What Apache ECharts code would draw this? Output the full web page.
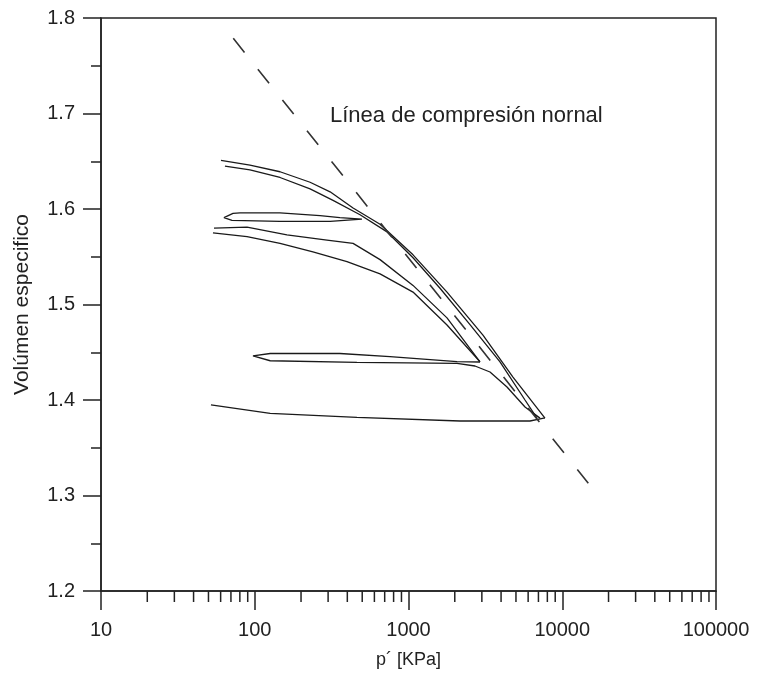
<!DOCTYPE html>
<html>
<head>
<meta charset="utf-8">
<script src="https://cdn.jsdelivr.net/npm/echarts@6/dist/echarts.min.js"></script>
<style>
html,body{margin:0;padding:0;background:#fff;}
#chart{width:759px;height:674px;}
</style>
</head>
<body>
<div id="chart"></div>
<script>
// ---- data (p' in kPa, specific volume) ----
const xTickLabels = [10, 100, 1000, 10000, 100000];
const yTickLabels = [1.2, 1.3, 1.4, 1.5, 1.6, 1.7, 1.8];
const xMinorTicks = [20,30,40,50,60,70,80,90,200,300,400,500,600,700,800,900,2000,3000,4000,5000,6000,7000,8000,9000,20000,30000,40000,50000,60000,70000,80000,90000];

const nclLine = [[72.5, 1.7787], [14770, 1.3128]];
const topOuter = [[60.3,1.651],[93.1,1.646],[146,1.639],[229,1.628],[309,1.618],[436,1.601],[653,1.584],[1070,1.552],[1780,1.513],[3050,1.468],[4780,1.424],[7720,1.381]];
const topInner = [[64.0,1.645],[93.1,1.641],[146,1.633],[229,1.621],[323,1.609],[484,1.594],[725,1.576],[1070,1.549],[1603,1.517],[2512,1.479],[3936,1.440],[5725,1.400],[6850,1.381]];
const loop159 = [[498,1.5895],[358,1.591],[266,1.593],[146,1.596],[80.2,1.596],[72.2,1.5955],[63.1,1.591],[71.1,1.588],[146,1.587],[309,1.587],[498,1.5895]];
const midUpper = [[54.3,1.580],[89.1,1.581],[162,1.573],[295,1.5675],[436,1.564],[653,1.547],[1070,1.520],[1780,1.486],[2917,1.440]];
const midLower = [[53.5,1.575],[89.1,1.571],[146,1.564],[239,1.555],[398,1.545],[653,1.532],[1070,1.513],[1780,1.4785],[2917,1.440]];
const loop144 = [[2917,1.4398],[2067,1.4401],[758,1.4454],[358,1.4487],[126,1.4487],[97.4,1.4461],[126,1.4411],[462,1.4395],[2067,1.4384],[2706,1.4356],[3389,1.4293],[4372,1.4136],[5725,1.3927],[7166,1.381]];
const bottomCurve = [[51.9,1.3948],[126,1.3861],[462,1.3819],[2163,1.378],[6170,1.378],[7720,1.3812]];

const solidCurves = [topOuter, topInner, loop159, midUpper, midLower, loop144, bottomCurve];

const FONT = 'Liberation Sans, Arial, sans-serif';
const INK = '#222';

const chart = echarts.init(document.getElementById('chart'), null, {renderer: 'canvas'});

const series = solidCurves.map(d => ({
  type: 'line', data: d, symbol: 'none', silent: true,
  lineStyle: {color: '#1a1a1a', width: 1.3}
}));
series.push({
  type: 'line', data: nclLine, symbol: 'none', silent: true,
  lineStyle: {color: '#333', width: 1.6, type: [18, 21.4]}
});
series.push({
  type: 'custom', silent: true, clip: false,
  data: xMinorTicks.map(v => [v, yTickLabels[0]]),
  renderItem: function (params, api) {
    const p = api.coord([api.value(0), api.value(1)]);
    return {type: 'line', shape: {x1: p[0], y1: p[1], x2: p[0], y2: p[1] + 11},
            style: {stroke: INK, lineWidth: 1.5}};
  }
});

chart.setOption({
  animation: false,
  backgroundColor: '#fff',
  grid: {left: 101, right: 43, top: 18, bottom: 83, show: true, borderColor: INK, borderWidth: 1.5, backgroundColor: 'transparent'},
  xAxis: {
    type: 'log', logBase: 10, min: xTickLabels[0], max: xTickLabels[xTickLabels.length - 1],
    name: 'p´ [KPa]', nameLocation: 'middle', nameGap: 60,
    nameTextStyle: {fontFamily: FONT, fontSize: 18, color: INK},
    axisLine: {show: true, lineStyle: {color: INK, width: 1.5}},
    axisTick: {show: true, inside: false, length: 19, lineStyle: {color: INK, width: 1.5}},
    minorTick: {show: false},
    splitLine: {show: false},
    axisLabel: {margin: 29, fontFamily: FONT, fontSize: 20, color: INK, formatter: v => String(Math.round(v))}
  },
  yAxis: {
    type: 'value', min: yTickLabels[0], max: yTickLabels[yTickLabels.length - 1], interval: 0.1,
    name: 'Volúmen especifico', nameLocation: 'middle', nameGap: 68, nameRotate: 90,
    nameTextStyle: {fontFamily: FONT, fontSize: 21, color: INK},
    axisLine: {show: true, lineStyle: {color: INK, width: 1.5}},
    axisTick: {show: true, inside: false, length: 18, lineStyle: {color: INK, width: 1.5}},
    minorTick: {show: true, splitNumber: 2, length: 10, lineStyle: {color: INK, width: 1.5}},
    splitLine: {show: false},
    axisLabel: {margin: 26, fontFamily: FONT, fontSize: 20, color: INK, formatter: v => v.toFixed(1)}
  },
  graphic: [{
    type: 'text', left: 330, top: 105,
    style: {text: 'Línea de compresión nornal', fontFamily: FONT, fontSize: 22, fill: INK}
  }],
  series: series
});
</script>
</body>
</html>
